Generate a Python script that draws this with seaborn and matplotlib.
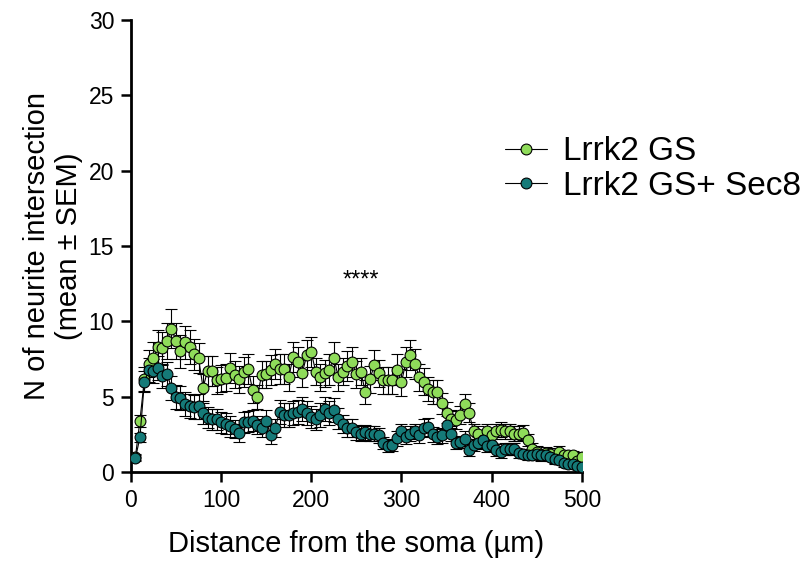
import numpy as np
import pandas as pd
import matplotlib
matplotlib.use("Agg")
import matplotlib.pyplot as plt
from matplotlib.lines import Line2D
import seaborn as sns

distance = list(range(5, 505, 5))

gs_mean = [1.0, 3.4, 6.2, 7.2, 7.6, 8.3, 8.2, 8.7, 9.5, 8.7,
           8.0, 8.6, 8.3, 7.8, 7.55, 5.6, 6.7, 6.7, 6.1, 6.2,
           6.25, 6.9, 6.45, 6.15, 6.65, 6.85, 5.45, 4.95, 6.45, 6.5,
           6.75, 7.15, 6.85, 6.85, 6.3, 7.65, 7.3, 6.55, 7.75, 7.95,
           6.65, 6.3, 6.55, 6.8, 7.6, 6.3, 6.65, 7.05, 7.3, 6.5,
           6.65, 5.3, 6.15, 7.1, 6.55, 6.1, 6.1, 6.1, 6.8, 5.95,
           7.3, 7.75, 7.15, 6.3, 6.0, 5.5, 5.3, 5.3, 4.55, 3.95,
           3.5, 3.45, 3.8, 4.5, 3.95, 2.7, 2.55, 2.1, 2.7, 2.45,
           2.7, 2.8, 2.7, 2.7, 2.55, 2.55, 2.6, 2.15, 1.55, 1.35,
           1.1, 1.25, 1.2, 0.9, 1.35, 1.1, 1.1, 1.1, 0.7, 1.0]

gs_sem = [0.2, 0.4, 0.8, 0.9, 1.0, 1.1, 1.1, 1.2, 1.3, 1.2,
          1.1, 1.1, 1.1, 1.0, 1.0, 0.9, 1.0, 1.0, 0.9, 0.9,
          0.9, 1.0, 0.9, 0.9, 1.0, 1.0, 0.9, 0.8, 0.9, 0.9,
          1.0, 1.0, 1.0, 1.0, 0.9, 1.0, 1.0, 0.9, 1.0, 1.0,
          0.9, 0.9, 0.9, 1.0, 1.0, 0.9, 0.9, 1.0, 1.0, 0.9,
          0.9, 0.8, 0.9, 1.0, 0.9, 0.9, 0.9, 0.9, 1.0, 0.9,
          1.0, 1.0, 1.0, 0.9, 0.9, 0.8, 0.8, 0.8, 0.7, 0.7,
          0.6, 0.6, 0.6, 0.7, 0.6, 0.5, 0.5, 0.5, 0.5, 0.5,
          0.5, 0.5, 0.5, 0.5, 0.5, 0.5, 0.5, 0.4, 0.4, 0.4,
          0.4, 0.4, 0.4, 0.3, 0.4, 0.3, 0.3, 0.3, 0.3, 0.3]

sec8_mean = [0.9, 2.3, 6.0, 6.8, 6.7, 6.9, 6.4, 6.5, 5.6, 4.95,
             4.9, 4.5, 4.4, 4.3, 4.35, 3.9, 3.6, 3.5, 3.5, 3.3,
             3.2, 3.05, 2.85, 2.6, 3.3, 3.35, 3.4, 3.1, 2.95, 3.4,
             2.45, 2.95, 4.0, 3.8, 3.8, 3.9, 4.0, 4.2, 3.9, 3.65,
             3.5, 3.8, 4.2, 3.9, 4.1, 3.55, 3.2, 2.95, 2.9, 2.65,
             2.55, 2.65, 2.55, 2.55, 2.45, 1.9, 1.7, 1.8, 2.25, 2.7,
             2.35, 2.55, 2.7, 2.45, 2.9, 3.0, 2.5, 2.35, 2.45, 3.1,
             2.55, 1.95, 2.0, 2.2, 1.45, 1.8, 1.9, 2.1, 1.7, 1.8,
             1.45, 1.35, 1.5, 1.55, 1.55, 1.25, 1.2, 1.1, 1.15, 1.2,
             1.1, 1.1, 1.0, 0.85, 0.8, 0.6, 0.5, 0.5, 0.4, 0.3]

sec8_sem = [0.2, 0.3, 0.7, 0.8, 0.8, 0.8, 0.8, 0.8, 0.8, 0.8,
            0.8, 0.8, 0.8, 0.8, 0.8, 0.7, 0.7, 0.7, 0.7, 0.7,
            0.7, 0.7, 0.6, 0.6, 0.7, 0.7, 0.7, 0.6, 0.6, 0.7,
            0.6, 0.6, 0.8, 0.8, 0.8, 0.8, 0.8, 0.8, 0.8, 0.7,
            0.7, 0.8, 0.8, 0.8, 0.8, 0.7, 0.6, 0.6, 0.6, 0.5,
            0.5, 0.5, 0.5, 0.5, 0.5, 0.4, 0.4, 0.4, 0.5, 0.5,
            0.5, 0.5, 0.5, 0.5, 0.6, 0.6, 0.5, 0.5, 0.5, 0.6,
            0.5, 0.4, 0.4, 0.5, 0.4, 0.4, 0.4, 0.4, 0.4, 0.4,
            0.4, 0.4, 0.4, 0.4, 0.4, 0.3, 0.3, 0.3, 0.3, 0.3,
            0.3, 0.3, 0.3, 0.3, 0.3, 0.3, 0.2, 0.2, 0.2, 0.2]

series_names = ["Lrrk2 GS", "Lrrk2 GS+ Sec8"]
series_colors = ["#8FDC5A", "#157A78"]

x_ticks = [0, 100, 200, 300, 400, 500]
y_ticks = [0, 5, 10, 15, 20, 25, 30]

sns.set_theme(style="ticks")
plt.rcParams['font.family'] = ['Liberation Sans', 'DejaVu Sans']
plt.rcParams['text.color'] = 'black'
plt.rcParams['axes.labelcolor'] = 'black'

fig = plt.figure(figsize=(8.08, 5.63), dpi=100)
ax = fig.add_axes([0.162, 0.1616, 0.558, 0.8029])

means = [gs_mean, sec8_mean]
sems = [gs_sem, sec8_sem]
for name, col, m, s in zip(series_names, series_colors, means, sems):
    df = pd.DataFrame({"distance": distance, "mean": m, "sem": s})
    ax.errorbar(df["distance"], df["mean"], yerr=df["sem"], fmt="none",
                ecolor="black", elinewidth=0.8, capsize=4, capthick=0.8, zorder=2)
    sns.lineplot(data=df, x="distance", y="mean", ax=ax, color="black",
                 linewidth=0.8, marker="o", markersize=7.8,
                 markerfacecolor=col, markeredgecolor="black",
                 markeredgewidth=0.8, zorder=3, legend=False)

ax.set_xlim(0, 500)
ax.set_ylim(0, 30)
ax.set_xticks(x_ticks)
ax.set_yticks(y_ticks)
ax.tick_params(axis="both", labelsize=16.5, width=1.8, length=7, color="black",
               labelcolor="black", direction="out", pad=5)
for sp in ["left", "bottom"]:
    ax.spines[sp].set_linewidth(2)
    ax.spines[sp].set_color("black")
sns.despine(ax=ax)
ax.set_xlabel("Distance from the soma (µm)", fontsize=21, labelpad=13)
ax.set_ylabel("N of neurite intersection\n(mean ± SEM)", fontsize=21, labelpad=4)

ax.text(255, 12.7, "****", ha="center", va="center", fontsize=17)

handles = [Line2D([0], [0], color="black", linewidth=0.8, marker="o", markersize=7.8,
                  markerfacecolor=c, markeredgecolor="black", markeredgewidth=0.8)
           for c in series_colors]
fig.legend(handles, series_names, loc="center left",
           bbox_to_anchor=(505 / 808, 1 - 169 / 563),
           borderaxespad=0, borderpad=0,
           frameon=False, fontsize=24, handlelength=1.25, labelspacing=0.1,
           handletextpad=0.5)

fig.savefig("out.png", dpi=100)
